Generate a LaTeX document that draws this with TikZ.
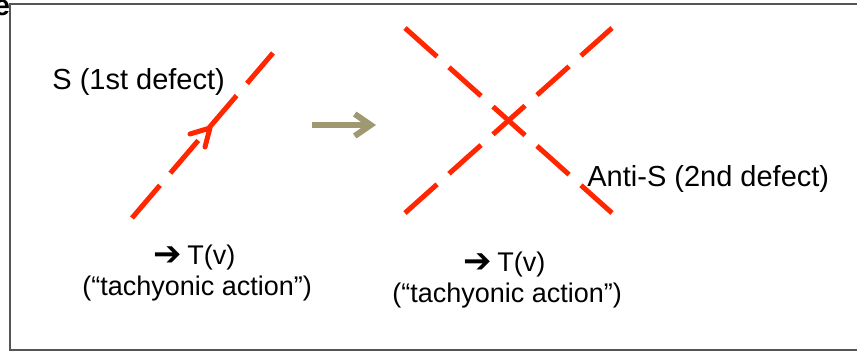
\documentclass[tikz,border=0pt]{standalone}
\usepackage{fontspec}
\setmainfont{Liberation Sans}
\newfontfamily\symfont{DejaVu Sans}
\usetikzlibrary{arrows.meta}
\definecolor{defred}{RGB}{255,38,0}
\definecolor{movegray}{RGB}{160,152,112}
\definecolor{framegray}{RGB}{85,85,85}
\tikzset{
  defect/.style={draw=defred, line width=2.5pt, dash pattern=on 21.5pt off 8pt},
  frame/.style={draw=framegray, line width=1.3pt},
  bigtxt/.style={anchor=base west, inner sep=0pt, font=\fontsize{14.5}{17}\selectfont},
  smalltxt/.style={anchor=base west, inner sep=0pt, font=\fontsize{13.5}{16}\selectfont},
  symtxt/.style={anchor=base west, inner sep=0pt, font=\symfont\fontsize{17}{18}\selectfont},
  barb/.style={draw=defred, line width=2.5pt, line cap=round, line join=round},
  movearrow/.style={draw=movegray, line width=3pt, -{Straight Barb[length=8pt,width=11pt,line width=3pt]}}
}
\begin{document}
\begin{tikzpicture}[x=0.5pt,y=-0.5pt]
\useasboundingbox (0,0) rectangle (857,352);
% frame
\draw[frame] (10,4) rectangle (880,350);
\node[anchor=base east, inner sep=0pt, font=\fontsize{14.5}{17}\selectfont\bfseries] (efrag) at (10.5,16) {e};
% first defect
\coordinate (s1a) at (132,218);
\coordinate (s1b) at (273,53);
\draw[defect] (s1a) -- (s1b);
\coordinate (h1) at (190,134);
\coordinate (htip) at (210,128);
\coordinate (h2) at (205,147);
\draw[barb] (h1) -- (htip) -- (h2);
\node[bigtxt] (slabel) at (52,90) {S (1st defect)};
% move arrow
\coordinate (ma) at (312,125);
\coordinate (mb) at (376,125);
\draw[movearrow] (ma) -- (mb);
% second picture: cross
\coordinate (x1a) at (405,28);
\coordinate (x1b) at (612,213);
\coordinate (x2a) at (405,213);
\coordinate (x2b) at (612,28);
\draw[defect] (x1a) -- (x1b);
\draw[defect] (x2a) -- (x2b);
\node[bigtxt] (alabel) at (587,187) {Anti-S (2nd defect)};
% captions
\node[symtxt] (r1) at (153,266) {➔};
\node[smalltxt] (t1) at (187,265) {T(v)};
\node[smalltxt] (a1) at (82,296) {(“tachyonic action”)};
\node[symtxt] (r2) at (463,273) {➔};
\node[smalltxt] (t2) at (497,272) {T(v)};
\node[smalltxt] (a2) at (392,303) {(“tachyonic action”)};
\end{tikzpicture}
\end{document}
